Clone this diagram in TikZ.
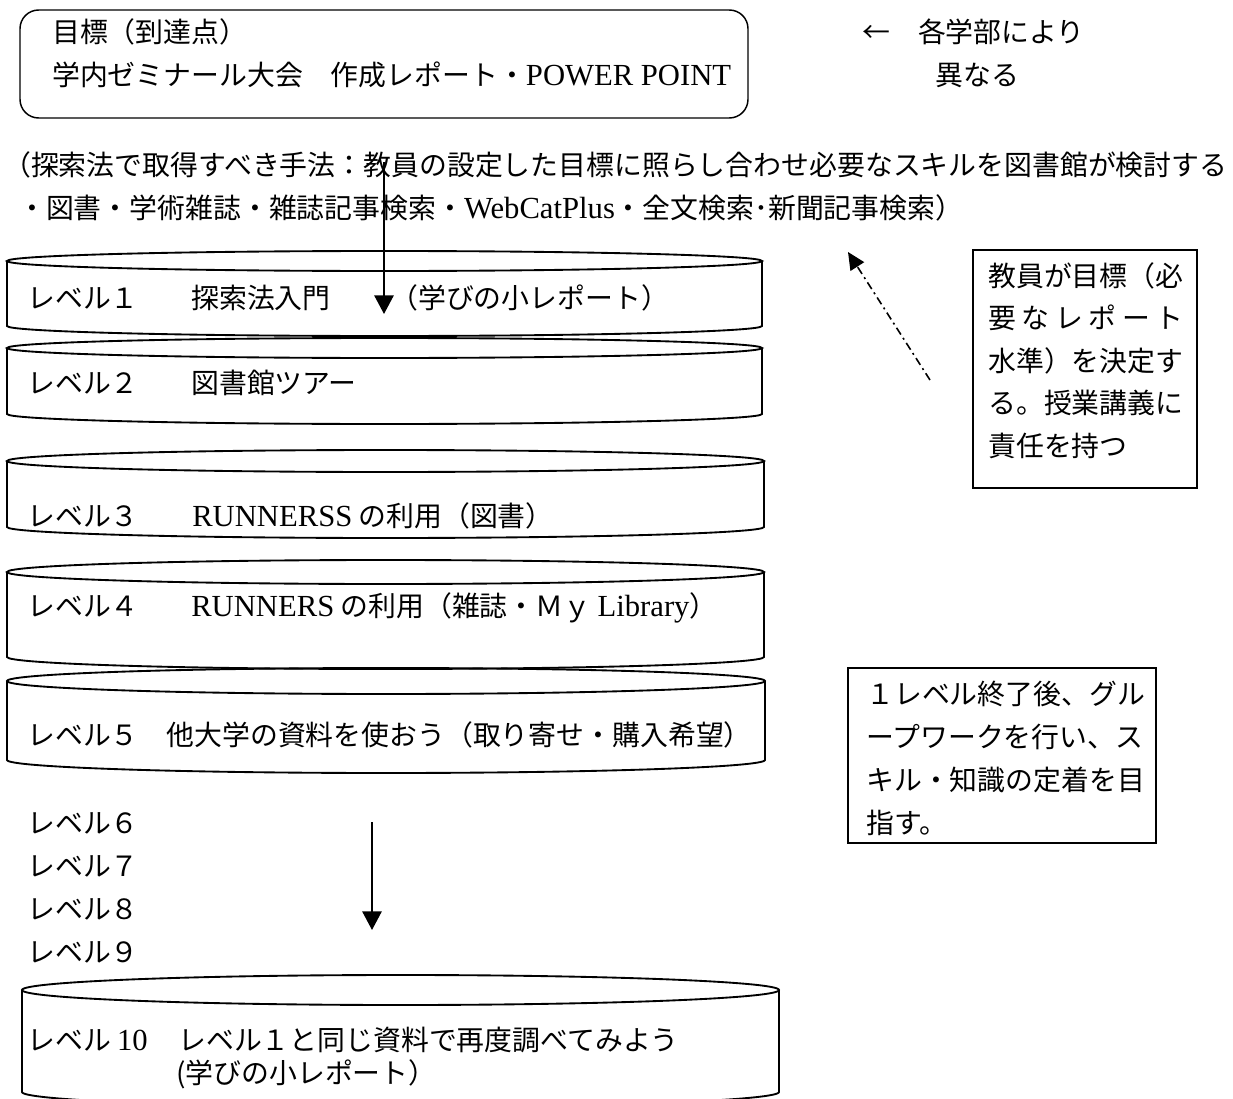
\documentclass[tikz,border=0pt]{standalone}
\usepackage{fontspec}
\newfontfamily\jp{Noto Sans CJK JP}
\newfontfamily\lat[Scale=1.1]{Liberation Serif}
\usetikzlibrary{arrows.meta}
\newcommand\lt[1]{{\lat #1}}
\newcommand\cylinderdraw[5]{%
  \pgfmathsetmacro\cylrx{(#2-#1)/2}%
  \draw[cyl] ({(#1+#2)/2},#3) ellipse[x radius=\cylrx, y radius=#5];
  \draw[cyl] (#1,#3) -- (#1,#4) arc[start angle=180,end angle=0,x radius=\cylrx,y radius=#5] -- (#2,#3);
}
\begin{document}
\begin{tikzpicture}[x=0.75pt,y=-0.75pt,
  txt/.style={font=\jp\fontsize{20.9}{26}\selectfont, inner sep=0pt, anchor=west, text height=18.4pt, text depth=2.5pt},
  cyl/.style={line width=1.4pt},
  frame/.style={draw, line width=1.1pt},
  arr/.style={line width=1.4pt, -{Triangle[length=14pt,width=14.5pt]}},
  dasharr/.style={line width=1.2pt, dash pattern=on 6pt off 3pt on 1.5pt off 3pt, -{Triangle[length=13pt,width=12pt]}},
]
\useasboundingbox (0,0) rectangle (1233,1099);

% top goal box
\draw[frame, rounded corners=14pt] (20,10) rectangle (748,118);
\node[txt] (g1) at (52,32) {目標（到達点）};
\node[txt] (g2) at (52,75) {学内ゼミナール大会　作成レポート・\lt{POWER POINT}};
\node[txt] (d1) at (862,32) {←　各学部により};
\node[txt] (d2) at (935,75) {異なる};

% paragraph
\node[txt] (p1) at (3,165) {（探索法で取得すべき手法：教員の設定した目標に照らし合わせ必要なスキルを図書館が検討する};
\node[txt] (p2) at (18,208) {・図書・学術雑誌・雑誌記事検索・\lt{WebCatPlus}・全文検索･新聞記事検索）};

% cylinders
\cylinderdraw{7}{762}{261}{326}{10}
\cylinderdraw{7}{762}{348}{414}{10}
\cylinderdraw{7}{764}{461}{527}{11}
\cylinderdraw{7}{764}{572}{657}{12}
\cylinderdraw{7}{765}{681}{760}{13}
\cylinderdraw{22}{779}{990}{1092}{15}

% level texts
\node[txt] (l1a) at (27,298) {レベル１};
\node[txt] (l1b) at (191,298) {探索法入門};
\node[txt] (l1c) at (390,298) {（学びの小レポート）};
\node[txt] (l2a) at (27,383) {レベル２};
\node[txt] (l2b) at (191,383) {図書館ツアー};
\node[txt] (l3a) at (27,516) {レベル３};
\node[txt] (l3b) at (192,516) {\lt{RUNNERSS} の利用（図書）};
\node[txt] (l4a) at (27,606) {レベル４};
\node[txt] (l4b) at (191,606) {\lt{RUNNERS} の利用（雑誌・Ｍｙ \lt{Library}）};
\node[txt] (l5a) at (27,735) {レベル５　他大学の資料を使おう（取り寄せ・購入希望）};
\node[txt] (l6) at (27,823) {レベル６};
\node[txt] (l7) at (27,866) {レベル７};
\node[txt] (l8) at (27,909) {レベル８};
\node[txt] (l9) at (27,952) {レベル９};
\node[txt] (l10a) at (27,1040) {レベル \lt{10}};
\node[txt] (l10b) at (178,1040) {レベル１と同じ資料で再度調べてみよう};
\node[txt] (l10c) at (176,1073) {(学びの小レポート）};

% right boxes
\draw[frame] (973,250) rectangle (1197,488);
\node[txt] (r1) at (988,276) {教員が目標（必};
\node[txt] (r2) at (988,318) {\hbox to 7em{要\hfil な\hfil レ\hfil ポ\hfil ー\hfil ト}};
\node[txt] (r3) at (988,361) {水準）を決定す};
\node[txt] (r4) at (988,403) {る。授業講義に};
\node[txt] (r5) at (988,446) {責任を持つ};

\draw[frame] (848,668) rectangle (1156,843);
\node[txt] (s1) at (866,694) {１レベル終了後、グル};
\node[txt] (s2) at (866,737) {ープワークを行い、ス};
\node[txt] (s3) at (866,780) {キル・知識の定着を目};
\node[txt] (s4) at (866,823) {指す。};

% arrows
\coordinate (a1s) at (384,162);
\coordinate (a1e) at (384,314);
\draw[arr] (a1s) -- (a1e);
\coordinate (a2s) at (930,380);
\coordinate (a2e) at (848,252);
\draw[dasharr] (a2s) -- (a2e);
\coordinate (a3s) at (372,822);
\coordinate (a3e) at (372,930);
\draw[arr] (a3s) -- (a3e);
\end{tikzpicture}
\end{document}
